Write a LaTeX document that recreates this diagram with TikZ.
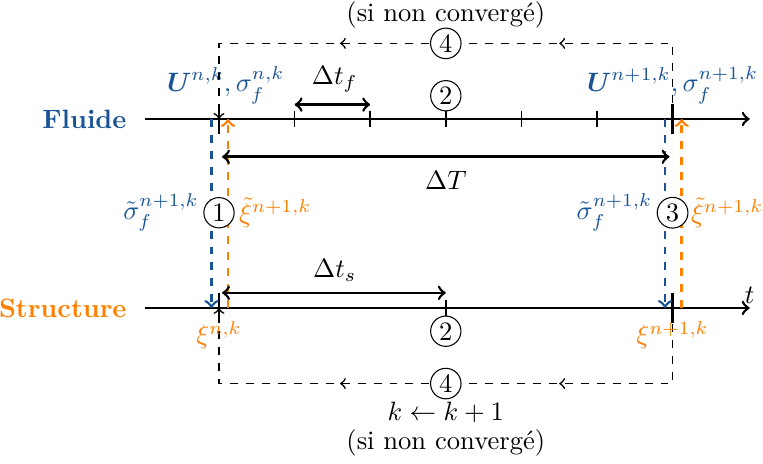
\documentclass[tikz,border=0pt]{standalone}
\usepackage{amsmath}
\usepackage{amssymb}
\usepackage{xcolor}
\usepackage{tikz}
\usetikzlibrary{arrows,decorations.markings,calc,positioning}
\definecolor{colorFL}{RGB}{26,84,150}
\definecolor{colorST}{RGB}{255,128,0}
\tikzset{
   every path/.style={>=to},
   axe/.style={->,line width=1pt},
   tck/.style={semithick},
   tckb/.style={line width=1pt},
   fl/.style={->,draw=colorFL,dashed,line width=1pt},
   st/.style={->,draw=colorST,dashed,line width=1pt},
   dt/.style={<->,line width=1pt},
   boucle/.style={->,dashed,line width=0.6pt,postaction={decorate},
      decoration={markings,mark=at position 0.3125 with {\arrow{>}},
                           mark=at position 0.675 with {\arrow{>}}}},
   num/.style={circle,draw,fill=white,inner sep=1.1pt},
}
\begin{document}
\begin{tikzpicture}
\useasboundingbox (-2.897,-2.063) rectangle (7.196,4.074);
% axes
\coordinate (F0) at (0,2.5);
\coordinate (F6) at (6,2.5);
\coordinate (S0) at (0,0);
\coordinate (S6) at (6,0);
\coordinate (Fdeb) at (-0.98,2.5);
\coordinate (Ffin) at (7.02,2.5);
\coordinate (Sdeb) at (-0.98,0);
\coordinate (Sfin) at (7.02,0);
\draw[axe] (Fdeb) -- (Ffin);
\draw[axe] (Sdeb) -- (Sfin) node[above, inner sep=1pt] (t) {$t$};
\node[anchor=east, text=colorFL, font=\bfseries] (fluide) at (-1.1,2.5) {Fluide};
\node[anchor=east, text=colorST, font=\bfseries] (structure) at (-1.1,0) {Structure};

% ticks
\foreach \x in {1,...,5}
  \draw[tck] (\x,2.4) -- (\x,2.6);
\draw[tck] (3,-0.1) -- (3,0.1);
\foreach \x in {0,6} {
  \draw[tckb] (\x,2.3) -- (\x,2.7);
  \draw[tckb] (\x,-0.2) -- (\x,0.2);
}

% loops
\draw[boucle] (F6) -- ++(0,1) -| (F0);
\draw[boucle] (S6) -- ++(0,-1) -| (S0);
\node[num] (q4h) at (3,3.5) {4};
\node[num] (q4b) at (3,-1) {4};
\node (cvh) at (3,3.88) {(si non convergé)};
\node (kk) at (3,-1.38) {$k \leftarrow k+1$};
\node (cvb) at (3,-1.78) {(si non convergé)};

% transferts
\draw[fl] ([xshift=-0.1cm]F0) -- ([xshift=-0.1cm]S0);
\draw[st] ([xshift=0.12cm]S0) -- ([xshift=0.12cm]F0);
\draw[fl] ([xshift=-0.1cm]F6) -- ([xshift=-0.1cm]S6);
\draw[st] ([xshift=0.12cm]S6) -- ([xshift=0.12cm]F6);
\node[num] (q1) at (0,1.26) {1};
\node[num] (q3) at (6,1.26) {3};
\node[left=1pt of q1, text=colorFL, inner sep=0.5pt] (sig1) {$\tilde{\sigma}_f^{n+1,k}$};
\node[right=1pt of q1, text=colorST, inner sep=0.5pt] (xi1) {$\tilde{\xi}^{n+1,k}$};
\node[left=1pt of q3, text=colorFL, inner sep=0.5pt] (sig3) {$\tilde{\sigma}_f^{n+1,k}$};
\node[right=0.5pt of q3, text=colorST, inner sep=0.3pt] (xi3) {$\tilde{\xi}^{n+1,k}$};

% pas de temps
\coordinate (T0) at (0.04,2);
\coordinate (T6) at (5.96,2);
\draw[dt] (T0) -- (T6);
\node (DT) at (3,1.69) {$\Delta T$};
\coordinate (f1) at (1,2.69);
\coordinate (f2) at (2,2.69);
\draw[dt] (f1) -- (f2);
\node (dtf) at (1.53,3.02) {$\Delta t_f$};
\coordinate (s0) at (0.04,0.2);
\coordinate (s3) at (3,0.2);
\draw[dt] (s0) -- (s3);
\node (dts) at (1.53,0.5) {$\Delta t_s$};
\node[num, anchor=south] (q2h) at (3,2.6) {2};
\node[num, anchor=north] (q2b) at (3,-0.1) {2};

% etats
\node[text=colorFL] (Un) at (0.09,2.95) {$\boldsymbol{U}^{n,k}, \sigma_f^{n,k}$};
\node[text=colorFL] (Un1) at (6,2.95) {$\boldsymbol{U}^{n+1,k}, \sigma_f^{n+1,k}$};
\node[text=colorST] (xin) at (0,-0.36) {$\xi^{n,k}$};
\node[text=colorST] (xin1) at (6,-0.36) {$\xi^{n+1,k}$};
\end{tikzpicture}
\end{document}
